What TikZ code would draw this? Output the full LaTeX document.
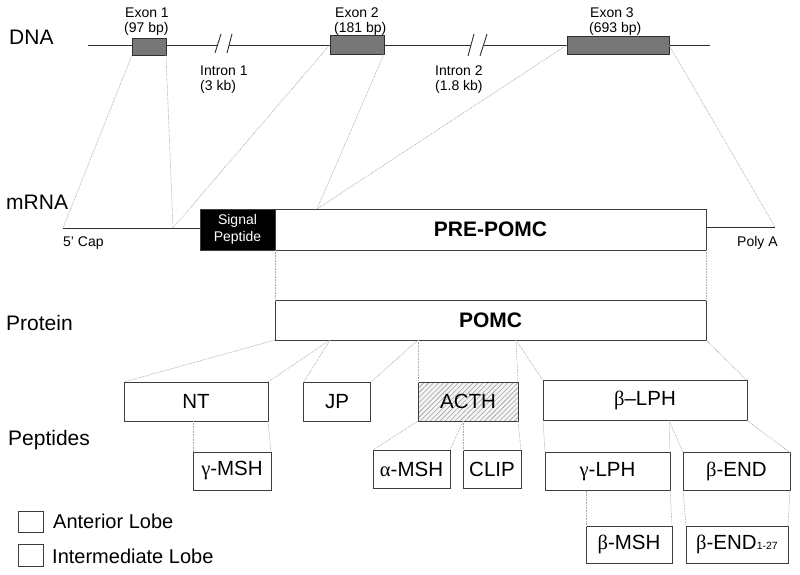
\documentclass[tikz,border=0pt]{standalone}
\usepackage{fontspec}
\setmainfont{Liberation Sans}
\newfontfamily\grk{Liberation Serif}
\usetikzlibrary{patterns.meta}
\definecolor{boxline}{HTML}{3C3C3C}
\definecolor{dotline}{HTML}{A8A8A8}
\definecolor{exonfill}{HTML}{777777}
\definecolor{dnacol}{HTML}{2E2E2E}
\begin{document}
\begin{tikzpicture}[x=1pt,y=-1pt,
  box/.style={draw=boxline, line width=1pt, fill=white, inner sep=0pt, outer sep=0pt, font=\fontsize{20.5}{24}\selectfont},
  exon/.style={draw=dnacol, fill=exonfill, line width=0.8pt, inner sep=0pt, outer sep=0pt},
  conn/.style={draw=dotline, dash pattern=on 0.8pt off 0.8pt, line width=0.6pt},
  lbl/.style={font=\fontsize{21}{25}\selectfont, anchor=base west, inner sep=0pt},
  small/.style={font=\fontsize{14}{16}\selectfont, anchor=base west, inner sep=0pt},
  dnaline/.style={draw=dnacol, line width=0.9pt},
  legbox/.style={draw=boxline, line width=0.8pt, fill=white, inner sep=0pt, minimum width=25pt}]
\useasboundingbox (0,0) rectangle (800,574);

% ---------- DNA ----------
\node[lbl] (dnal) at (9,44) {DNA};
\coordinate (d0) at (88,45);
\coordinate (b1a) at (218,45);
\coordinate (b1b) at (229,45);
\coordinate (b2a) at (471,45);
\coordinate (b2b) at (484,45);
\coordinate (d1) at (710,45);
\draw[dnaline] (d0) -- (b1a);
\draw[dnaline] (b1b) -- (b2a);
\draw[dnaline] (b2b) -- (d1);
\coordinate (s1a) at (215,53); \coordinate (s1b) at (221,34);
\coordinate (s2a) at (227,53); \coordinate (s2b) at (232,34);
\coordinate (s3a) at (468,56); \coordinate (s3b) at (474,34);
\coordinate (s4a) at (480,56); \coordinate (s4b) at (487,34);
\draw[dnaline] (s1a) -- (s1b);
\draw[dnaline] (s2a) -- (s2b);
\draw[dnaline] (s3a) -- (s3b);
\draw[dnaline] (s4a) -- (s4b);

\node[exon, minimum width=34pt, minimum height=17pt] (ex1) at (149,46.5) {};
\node[exon, minimum width=54pt, minimum height=19pt] (ex2) at (357,44.5) {};
\node[exon, minimum width=102pt, minimum height=18pt] (ex3) at (618,45) {};

\node[small] (ex1a) at (125,17) {Exon 1};
\node[small] (ex1b) at (124,32) {(97 bp)};
\node[small] (ex2a) at (335,17) {Exon 2};
\node[small] (ex2b) at (334,32) {(181 bp)};
\node[small] (ex3a) at (590,17) {Exon 3};
\node[small] (ex3b) at (589,32) {(693 bp)};
\node[small] (in1a) at (200,75) {Intron 1};
\node[small] (in1b) at (200,90) {(3 kb)};
\node[small] (in2a) at (435,75) {Intron 2};
\node[small] (in2b) at (435,90) {(1.8 kb)};

% ---------- mRNA ----------
\node[lbl] (mrnal) at (6,209) {mRNA};
\node[box, fill=black, text=white, align=center, font=\fontsize{14}{16.5}\selectfont,
      minimum width=75pt, minimum height=41pt] (sig) at (237.5,229.5) {Signal\\Peptide};
\node[box, font=\fontsize{21}{25}\selectfont\bfseries, minimum width=431pt, minimum height=41pt] (pre) at (490.5,229.5) {PRE-POMC};
\coordinate (cap) at (63,228);
\coordinate (splice) at (173,228);
\coordinate (pj) at (317,209);
\coordinate (polyend) at (775,227);
\draw[dnaline] (cap) -- (cap -| sig.west);
\draw[dnaline] (pre.east |- polyend) -- (polyend);
\node[small] (capl) at (63,246) {5' Cap};
\node[small] (polyl) at (737,246) {Poly A};

\draw[conn] (ex1.south west) -- (cap);
\draw[conn] (ex1.south east) -- (splice);
\draw[conn] (ex2.west) -- (splice);
\draw[conn] (ex2.south east) -- (pj);
\draw[conn] (ex3.west) -- (pj);
\draw[conn] (ex3.east) -- (polyend);

% ---------- Protein ----------
\node[lbl] (protl) at (6,330) {Protein};
\node[box, font=\fontsize{21}{25}\selectfont\bfseries, minimum width=431pt, minimum height=40pt] (pomc) at (490.5,320) {POMC};
\draw[conn] (pre.south west) -- (pomc.north west);
\draw[conn] (pre.south east) -- (pomc.north east);

% ---------- Peptides ----------
\node[lbl] (pepl) at (8,445) {Peptides};
\node[box, minimum width=144pt, minimum height=39pt] (nt) at (196,401.5) {NT};
\node[box, minimum width=67pt, minimum height=39pt] (jp) at (337,402) {JP};
\node[box, preaction={fill=gray!8}, pattern={Lines[angle=45,distance=3.5pt,line width=0.6pt]}, pattern color=gray!75,
      minimum width=100pt, minimum height=39pt] (acth) at (468,401.5) {ACTH};
\node[box, minimum width=204pt, minimum height=40pt] (blph) at (645,400.5) {{\grk β}–LPH};

\node[box, minimum width=78pt, minimum height=38pt] (gmsh) at (232,471) {{\grk γ}-MSH};
\node[box, minimum width=77pt, minimum height=38pt] (amsh) at (411.5,469) {{\grk α}-MSH};
\node[box, minimum width=58pt, minimum height=38pt] (clip) at (492,469) {CLIP};
\node[box, minimum width=125pt, minimum height=38pt] (glph) at (607.5,471.5) {{\grk γ}-LPH};
\node[box, minimum width=107pt, minimum height=38pt] (bend) at (736.5,471.5) {{\grk β}-END};
\node[box, minimum width=86pt, minimum height=37pt] (bmsh) at (629,544.5) {{\grk β}-MSH};
\node[box, minimum width=102pt, minimum height=37pt] (b127) at (737,544.5) {{\grk β}-END{\fontsize{10.5}{12}\selectfont 1-27}};

\coordinate (pA) at (330,340);
\coordinate (pB) at (418,340);
\coordinate (pC) at (516,340);
\coordinate (am) at (463,421);
\coordinate (bm) at (669,420.5);

\draw[conn] (pomc.south west) -- (nt.north west);
\draw[conn] (pA) -- (nt.north east);
\draw[conn] (pA) -- (jp.north west);
\draw[conn] (pB) -- (jp.north east);
\draw[conn] (pB) -- (acth.north west);
\draw[conn] (pC) -- (acth.north east);
\draw[conn] (pC) -- (blph.north west);
\draw[conn] (pomc.south east) -- (blph.north east);

\draw[conn] (gmsh.north west |- nt.south) -- (gmsh.north west);
\draw[conn] (nt.south east) -- (gmsh.north east);

\draw[conn] (acth.south west) -- (amsh.north west);
\draw[conn] (am) -- (amsh.north east);
\draw[conn] (am) -- (clip.north west);
\draw[conn] (acth.south east) -- (clip.north east);

\draw[conn] (blph.south west) -- (glph.north west);
\draw[conn] (bm) -- (glph.north east);
\draw[conn] (bm) -- (bend.north west);
\draw[conn] (blph.south east) -- (bend.north east);

\draw[conn] (bmsh.north west |- glph.south) -- (bmsh.north west);
\draw[conn] (glph.south east) -- (bmsh.north east);
\draw[conn] (bend.south west) -- (b127.north west);
\draw[conn] (bend.south east) -- (b127.north east);

% ---------- Legend ----------
\node[legbox, minimum height=21pt] (leg1) at (30.5,521.5) {};
\node[legbox, minimum height=22pt] (leg2) at (30.5,555.5) {};
\node[lbl, font=\fontsize{20}{24}\selectfont] (leg1l) at (53,528) {Anterior Lobe};
\node[lbl, font=\fontsize{20}{24}\selectfont] (leg2l) at (52,563) {Intermediate Lobe};
\end{tikzpicture}
\end{document}
